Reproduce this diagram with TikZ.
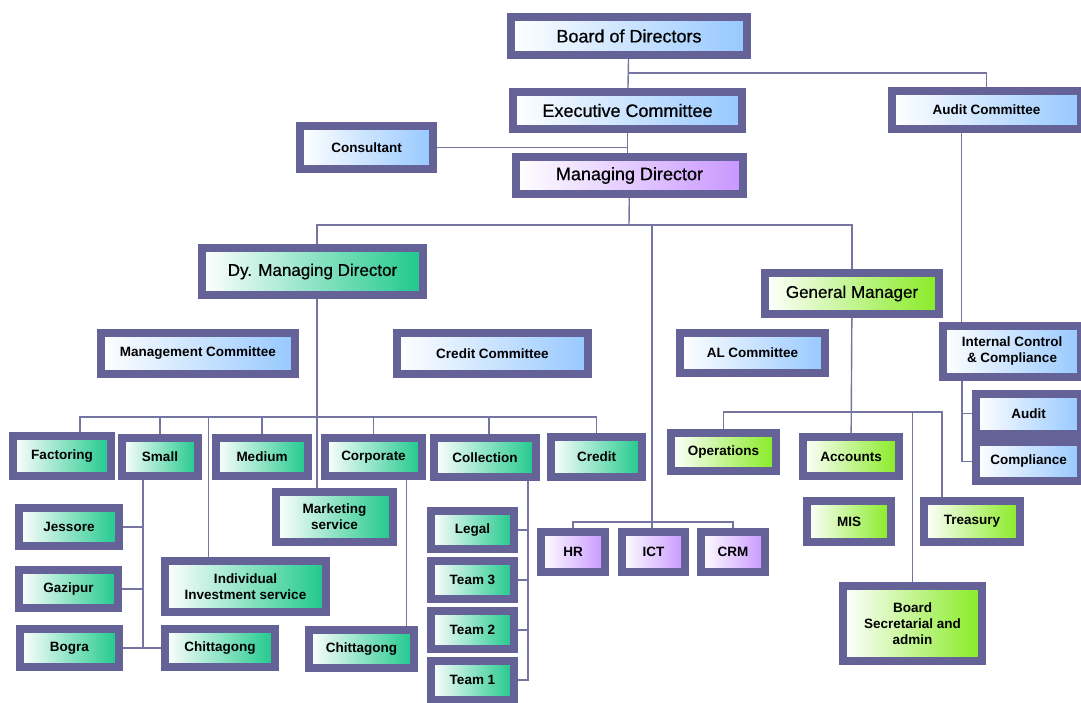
\documentclass[tikz,border=0pt]{standalone}
\usepackage{fontspec}
\setmainfont{Liberation Sans}
\newfontfamily\headfont[FakeBold=0.6]{Liberation Sans}
\usepackage{tikz}
\usepackage{xcolor}
\definecolor{framepurple}{RGB}{100,98,150}
\definecolor{linkgrey}{RGB}{118,116,160}
\definecolor{lightblue}{RGB}{150,200,255}
\definecolor{lilac}{RGB}{200,150,255}
\definecolor{jadegreen}{RGB}{30,200,140}
\definecolor{limegreen}{RGB}{135,235,35}

\begin{document}
\begin{tikzpicture}[x=1pt,y=-1pt]
    % Define node styles
    \tikzstyle{unit} = [rectangle, draw=framepurple, line width=8pt, inner sep=0pt, align=center, font=\bfseries\fontsize{13.5}{16}\selectfont]
    \tikzstyle{head} = [font=\headfont\fontsize{18}{21}\selectfont]
    \tikzstyle{subhead} = [font=\headfont\fontsize{17}{20}\selectfont]
    \tikzstyle{bluebox} = [unit, left color=white, middle color=lightblue!40, right color=lightblue]
    \tikzstyle{lilacbox} = [unit, left color=white, middle color=lilac!40, right color=lilac]
    \tikzstyle{jadebox} = [unit, left color=white, middle color=jadegreen!35, right color=jadegreen]
    \tikzstyle{limebox} = [unit, left color=white, middle color=limegreen!35, right color=limegreen]
    \tikzstyle{link} = [draw=linkgrey, line width=1.4pt]

    \useasboundingbox (0,0) rectangle (1081,702);
    \fill[white] (0,0) rectangle (1081,702);

    % Board level
    \node[bluebox, head, minimum width=236pt, minimum height=38pt] (board) at (629,36) {Board of Directors};
    \node[bluebox, head, minimum width=229pt, minimum height=37pt] (exec) at (627.5,110.5) {Executive Committee};
    \node[bluebox, minimum width=189pt, minimum height=38pt] (auditcom) at (986.5,110) {Audit Committee};
    \node[bluebox, minimum width=133pt, minimum height=43pt] (cons) at (366.5,147.5) {Consultant};
    \node[lilacbox, head, minimum width=227pt, minimum height=37pt] (md) at (629.5,175.5) {Managing Director};

    % Second level
    \node[jadebox, subhead, minimum width=221pt, minimum height=47pt] (dymd) at (312.5,271.5) {Dy. Managing Director};
    \node[limebox, subhead, minimum width=174pt, minimum height=41pt] (gm) at (852,293.5) {General Manager};

    % Committees
    \node[bluebox, minimum width=194pt, minimum height=41pt] (mgmt) at (198,353.5) {Management Committee};
    \node[bluebox, minimum width=191pt, minimum height=41pt] (credcom) at (492.5,353.5) {Credit Committee};
    \node[bluebox, minimum width=145pt, minimum height=40pt] (alcom) at (752.5,353) {AL Committee};
    \node[bluebox, minimum width=138pt, minimum height=51pt] (icc) at (1012,351.5) {Internal Control\\\& Compliance};
    \node[bluebox, minimum width=105pt, minimum height=39.5pt] (audit) at (1028.5,413.75) {Audit};
    \node[bluebox, minimum width=105pt, minimum height=39.5pt] (compl) at (1028.5,461.25) {Compliance};

    % Dy. MD units
    \node[jadebox, minimum width=98pt, minimum height=40pt] (fact) at (62,456) {Factoring};
    \node[jadebox, minimum width=76pt, minimum height=38pt] (small) at (160,457) {Small};
    \node[jadebox, minimum width=92pt, minimum height=38pt] (medium) at (262,457) {Medium};
    \node[jadebox, minimum width=97pt, minimum height=38pt] (corp) at (373.5,457) {Corporate};
    \node[jadebox, minimum width=102pt, minimum height=39pt] (coll) at (485,457.5) {Collection};
    \node[jadebox, minimum width=91pt, minimum height=40pt] (credit) at (596.5,457) {Credit};
    \node[jadebox, minimum width=100pt, minimum height=38pt] (jess) at (69,527) {Jessore};
    \node[jadebox, minimum width=99pt, minimum height=38pt] (gaz) at (68.5,589) {Gazipur};
    \node[jadebox, minimum width=99pt, minimum height=38pt] (bogra) at (69.5,648) {Bogra};
    \node[jadebox, minimum width=161pt, minimum height=51pt] (indiv) at (245.5,586.5) {Individual\\Investment service};
    \node[jadebox, minimum width=110pt, minimum height=38pt] (chit1) at (220,648) {Chittagong};
    \node[jadebox, minimum width=117pt, minimum height=50pt] (mkt) at (334.5,517) {Marketing\\service};
    \node[jadebox, minimum width=105pt, minimum height=38pt] (chit2) at (361.5,649) {Chittagong};
    \node[jadebox, minimum width=83pt, minimum height=38pt] (legal) at (472.5,530) {Legal};
    \node[jadebox, minimum width=83pt, minimum height=38pt] (team3) at (472.5,580) {Team 3};
    \node[jadebox, minimum width=83pt, minimum height=38pt] (team2) at (472.5,630) {Team 2};
    \node[jadebox, minimum width=83pt, minimum height=39pt] (team1) at (472.5,680) {Team 1};

    % MD support units
    \node[lilacbox, minimum width=64pt, minimum height=40pt] (hr) at (573,552) {HR};
    \node[lilacbox, minimum width=63pt, minimum height=40pt] (ict) at (653.5,552) {ICT};
    \node[lilacbox, minimum width=64pt, minimum height=40pt] (crm) at (733,552) {CRM};

    % GM units
    \node[limebox, minimum width=105pt, minimum height=38pt] (ops) at (723.5,452) {Operations};
    \node[limebox, minimum width=96pt, minimum height=39pt] (acc) at (851,456.5) {Accounts};
    \node[limebox, minimum width=84pt, minimum height=41pt] (mis) at (849,521.5) {MIS};
    \node[limebox, minimum width=96pt, minimum height=41pt] (treas) at (972,521.5) {Treasury};
    \node[limebox, minimum width=139pt, minimum height=75pt] (bsec) at (912.5,623.5) {Board\\Secretarial and\\admin};

    % Links - top
    \draw[link] (board) -- (exec);
    \draw[link] ([yshift=-14pt]board.south) -| (auditcom.north);
    \draw[link] (exec.south) -- (exec.south |- md.north);
    \draw[link] (cons.east) -- (cons.east -| exec.south);
    \draw[link] ([xshift=-25pt]auditcom.south) -- ([xshift=-25pt]auditcom.south |- icc.north);
    \draw[link] ([xshift=-50pt]icc.south) |- (compl.west);
    \draw[link] (audit.west) -- ++(-10pt,0);

    % Links - managing director
    \coordinate (mdbus) at (629,225);
    \draw[link] (md) -- (mdbus);
    \draw[link] ([xshift=4.5pt]dymd.north) |- (mdbus) -| (gm.north);
    \coordinate (itbus) at (652,522);
    \draw[link] (mdbus -| itbus) -- (itbus);
    \draw[link] (hr.north) |- (itbus) -| (crm.north);
    \draw[link] (itbus) -- (itbus |- ict.north);

    % Links - Dy. managing director
    \draw[link] ([xshift=4.5pt]dymd.south) -- ([xshift=4.5pt]dymd.south |- mkt.north);
    \coordinate (dybus) at (317,417);
    \draw[link] ([xshift=18pt]fact.north) |- (dybus) -| (credit.north);
    \draw[link] (dybus -| small.north) -- (small.north);
    \draw[link] (dybus -| medium.north) -- (medium.north);
    \draw[link] (dybus -| corp.north) -- (corp.north);
    \draw[link] ([xshift=4pt]dybus -| coll.north) -- ([xshift=4pt]coll.north);
    \draw[link] ([xshift=-37pt]indiv.north) -- ([xshift=-37pt]indiv.north |- dybus);

    % Small branches
    \coordinate (smalldrop) at ([xshift=-17pt]small.south);
    \draw[link] (smalldrop) |- (chit1.west);
    \draw[link] (bogra.east) -- (chit1.west);
    \draw[link] (jess.east) -- (jess.east -| smalldrop);
    \draw[link] (gaz.east) -- (gaz.east -| smalldrop);

    % Corporate and collection branches
    \draw[link] ([xshift=33pt]corp.south) -- ([xshift=33pt]corp.south |- chit2.north);
    \coordinate (colldrop) at ([xshift=43pt]coll.south);
    \draw[link] (colldrop) |- (team1.east);
    \draw[link] (legal.east) -- (legal.east -| colldrop);
    \draw[link] (team3.east) -- (team3.east -| colldrop);
    \draw[link] (team2.east) -- (team2.east -| colldrop);

    % Links - general manager
    \draw[link] (gm) -- (acc);
    \coordinate (gmbus) at (852,412);
    \draw[link] (ops.north) |- (gmbus) -| ([xshift=-30pt]treas.north);
    \draw[link] (gmbus -| bsec.north) -- (bsec.north);

\end{tikzpicture}
\end{document}
